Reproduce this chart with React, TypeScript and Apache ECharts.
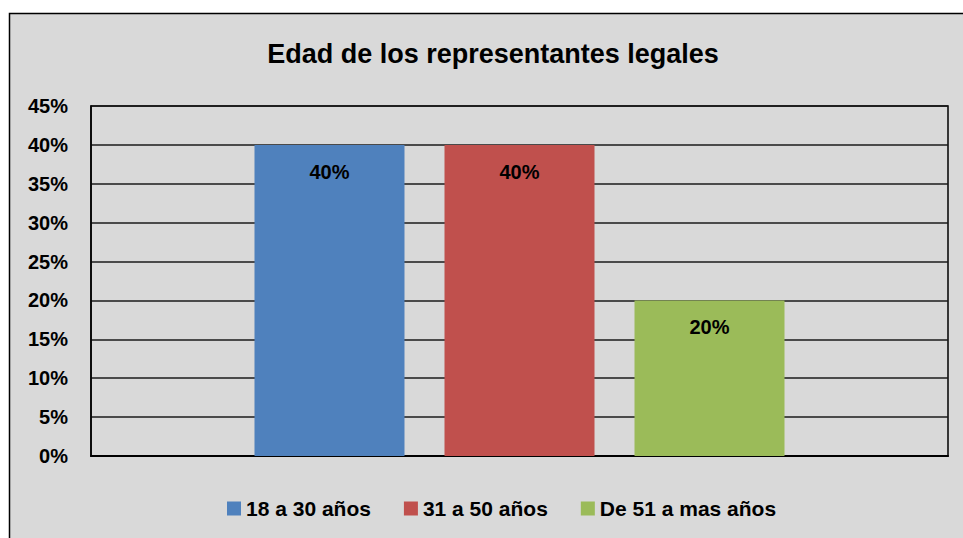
import React, { useEffect, useRef } from "react";
import * as echarts from "echarts";

const titleText = "Edad de los representantes legales";
const categories = [""];
const seriesNames = ["18 a 30 años", "31 a 50 años", "De 51 a mas años"];
const seriesValues = [[0.4], [0.4], [0.2]];
const seriesColors = ["#4f81bd", "#c0504d", "#9bbb59"];
const yMin = 0;
const yMax = 0.45;
const yInterval = 0.05;

const FONT = "'Liberation Sans', Arial, sans-serif";
const pct = (v: number) => `${Math.round(v * 100)}%`;

export default function App() {
  const ref = useRef<HTMLDivElement>(null);
  useEffect(() => {
    if (!ref.current) return;
    const chart = echarts.init(ref.current, undefined, { renderer: "svg" });
    chart.setOption({
      animation: false,
      backgroundColor: "#ffffff",
      textStyle: { fontFamily: FONT },
      graphic: [
        {
          type: "rect",
          z: -10,
          silent: true,
          shape: { x: 9.5, y: 13.5, width: 1000, height: 600 },
          style: { fill: "#d9d9d9", stroke: "#000000", lineWidth: 1.5 },
        },
      ],
      title: {
        text: titleText,
        left: 493,
        top: 40,
        padding: 0,
        textAlign: "center",
        textStyle: { fontFamily: FONT, fontWeight: "bold", fontSize: 27, color: "#000" },
      },
      legend: {
        data: seriesNames,
        left: 227,
        top: 498,
        itemWidth: 14,
        itemHeight: 14,
        itemGap: 33,
        icon: "rect",
        padding: 0,
        textStyle: { fontFamily: FONT, fontWeight: "bold", fontSize: 21, color: "#000" },
      },
      grid: {
        left: 91,
        top: 106,
        right: 15,
        bottom: 82,
        show: true,
        borderColor: "#000",
        borderWidth: 1.5,
        backgroundColor: "transparent",
      },
      xAxis: {
        type: "category",
        data: categories,
        axisLine: { lineStyle: { color: "#000", width: 2 } },
        axisTick: { show: false },
        axisLabel: { show: false },
      },
      yAxis: {
        type: "value",
        min: yMin,
        max: yMax,
        interval: yInterval,
        axisLine: { show: true, lineStyle: { color: "#000", width: 1.5 } },
        axisTick: { show: false },
        axisLabel: {
          formatter: (v: number) => pct(v),
          margin: 23,
          fontFamily: FONT,
          fontWeight: "bold",
          fontSize: 20,
          color: "#000",
        },
        splitLine: { lineStyle: { color: "#1a1a1a", width: 1.5 } },
      },
      series: seriesNames.map((name, i) => ({
        name,
        type: "bar",
        data: seriesValues[i],
        barWidth: 150,
        barGap: "26.67%",
        itemStyle: { color: seriesColors[i] },
        label: {
          show: true,
          position: "insideTop",
          distance: 17,
          formatter: (p: any) => pct(p.value),
          fontFamily: FONT,
          fontWeight: "bold",
          fontSize: 20,
          color: "#000",
        },
      })),
    });
    return () => chart.dispose();
  }, []);
  return (
    <div
      ref={ref}
      style={{ position: "fixed", left: 0, top: 0, width: 963, height: 538 }}
    />
  );
}
